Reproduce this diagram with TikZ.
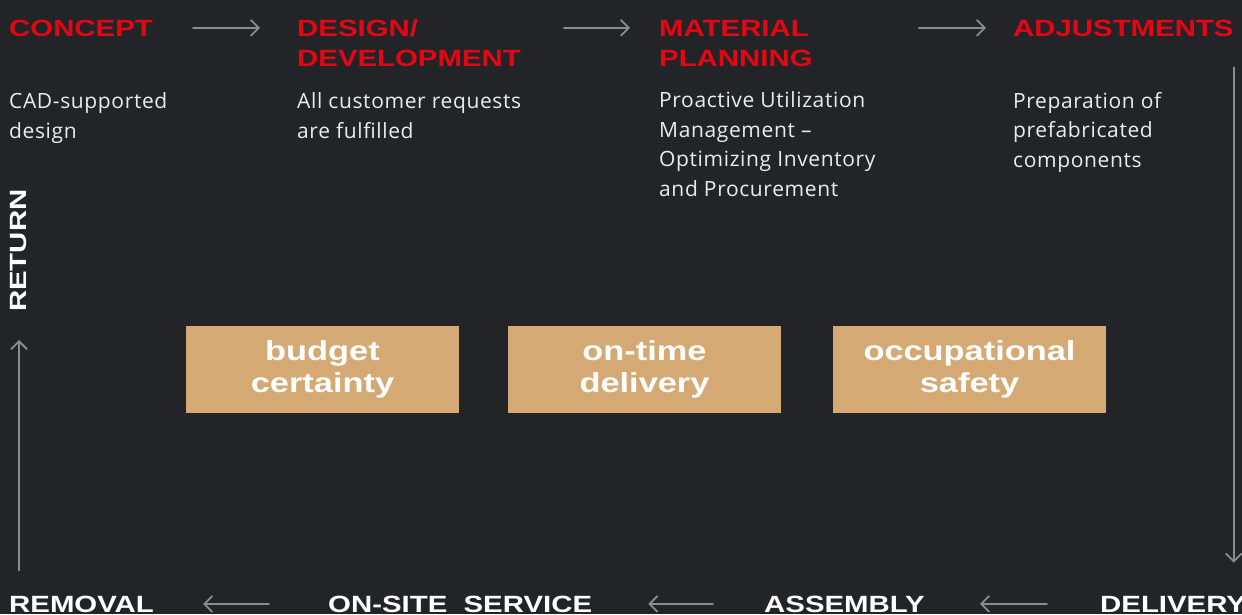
\documentclass[tikz,border=0pt]{standalone}
\usepackage{fontspec}
\setmainfont{Open Sans}[LetterSpace = 3]
\newfontfamily\headfont[FakeStretch = 1.25]{Liberation Sans}
\usetikzlibrary{arrows.meta}

\definecolor{bgdark}{RGB}{35,36,40}
\definecolor{headred}{RGB}{227,6,19}
\definecolor{gaintan}{RGB}{212,169,115}
\definecolor{flowgray}{RGB}{140,140,142}
\definecolor{bodywhite}{RGB}{236,236,236}

\begin{document}
\begin{tikzpicture}[x = 1pt, y = -1pt, line join = round, line cap = round,
	>={Straight Barb[length = 8pt, width = 16pt]},
	head/.style = {anchor = base west, inner sep = 0pt, text = headred, align = left, font = \headfont\bfseries\fontsize{23.5}{30}\selectfont},
	stage/.style = {head, text = white},
	info/.style = {anchor = base west, inner sep = 0pt, text = bodywhite, align = left, font = \fontsize{21}{29.4}\selectfont},
	gain/.style = {rectangle, fill = gaintan, inner sep = 0pt, minimum width = 273pt, minimum height = 87pt, text = white, align = center, font = \headfont\bfseries\fontsize{27.5}{32}\selectfont},
	flow/.style = {draw = flowgray, line width = 1.8pt, ->}]
	%		\draw[gray!50,step = 50] (0,0) grid (1242,614);
	\fill[bgdark] (0,0) rectangle (1242,614);
	\useasboundingbox (0,0) rectangle (1242,614);
	
	% top row (multi-line nodes sit on their last baseline)
	\node[head] (concept) at (9,36) {CONCEPT};
	\node[head] (design) at (297,66) {DESIGN/\\DEVELOPMENT};
	\node[head] (material) at (659,66) {MATERIAL\\PLANNING};
	\node[head] (adjust) at (1013,36) {ADJUSTMENTS};
	
	\node[info] (conceptinfo) at (9,138) {CAD-supported\\design};
	\node[info] (designinfo) at (297,138) {All customer requests\\are fulfilled};
	\node[info] (materialinfo) at (659,196) {Proactive Utilization\\Management --\\Optimizing Inventory\\and Procurement};
	\node[info] (adjustinfo) at (1013,167) {Preparation of\\prefabricated\\components};
	
	% bottom row
	\node[stage] (removal) at (9,612) {REMOVAL};
	\node[stage] (onsite) at (328,612) {ON-SITE\ \ SERVICE};
	\node[stage] (assembly) at (764,612) {ASSEMBLY};
	\node[stage] (delivery) at (1100,612) {DELIVERY};
	\node[stage, anchor = base west, rotate = 90] (return) at (27,312) {RETURN};
	
	% benefits
	\node[gain] (budget) at (322.5,369.5) {budget\\certainty};
	\node[gain] (ontime) at (644.5,369.5) {on-time\\delivery};
	\node[gain] (safety) at (969.5,369.5) {occupational\\safety};
	
	% arrows
	\draw[flow] ([xshift = 40pt]concept.east) -- ([xshift = -37pt]concept.east -| design.west);
	\draw[flow] ([xshift = 43pt]design.east |- concept.east) -- ([xshift = -29pt]concept.east -| material.west);
	\draw[flow] ([xshift = 106pt]material.east |- concept.east) -- ([xshift = -27pt]concept.east -| adjust.west);
	\draw[flow] ([yshift = -31pt]adjust.south east) -- ([yshift = 33pt]adjust.east |- delivery.north);
	\draw[flow] ([xshift = -53pt]delivery.west) -- ([xshift = 55pt]delivery.west -| assembly.east);
	\draw[flow] ([xshift = -51pt]assembly.west) -- ([xshift = 56pt]assembly.west -| onsite.east);
	\draw[flow] ([xshift = -59pt]onsite.west) -- ([xshift = 49pt]onsite.west -| removal.east);
	\draw[flow] ([yshift = 25pt]return.west |- removal.north) -- ([yshift = -28pt]return.west);
\end{tikzpicture}
\end{document}
